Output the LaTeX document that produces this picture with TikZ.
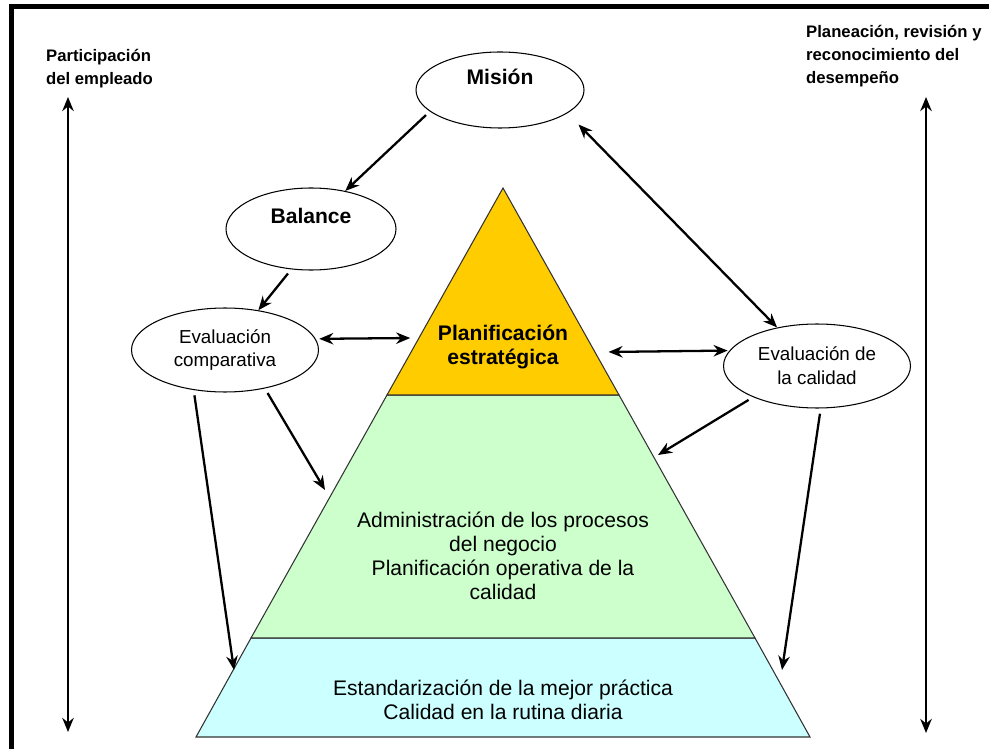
\documentclass[tikz,border=0pt]{standalone}
\usepackage{fontspec}
\setmainfont{Liberation Sans}
\usepackage{tikz}
\usetikzlibrary{arrows.meta,shapes.geometric,calc}
\definecolor{pyrorange}{HTML}{FFCC00}
\definecolor{pyrgreen}{HTML}{CCFFCC}
\definecolor{pyrblue}{HTML}{CCFFFF}
\tikzstyle{oval}=[ellipse,draw=black,fill=white,line width=0.6pt,inner sep=0pt,align=center]
\tikzstyle{edge}=[draw,line width=1.3pt,-{Stealth[length=8pt,width=6.5pt]}]
\tikzstyle{dedge}=[draw,line width=1.3pt,{Stealth[length=8pt,width=6.5pt]}-{Stealth[length=8pt,width=6.5pt]}]
\tikzstyle{layer}=[draw=black!80,line width=0.6pt]
\tikzstyle{side}=[font=\fontsize{9.5}{13}\selectfont\bfseries,align=left,anchor=west]
\tikzset{txt/.style={align=center,font=\fontsize{12}{13.6}\selectfont}}

\begin{document}
\begin{tikzpicture}[x=0.02cm,y=-0.02cm]
  \useasboundingbox (0,0) rectangle (989,749);

  % frame
  \draw[line width=2.3pt] (11.5,749) -- (11.5,6.5) -- (989,6.5);

  % pyramid
  \coordinate (apex) at (503,188);
  \coordinate (oL) at (387,395);
  \coordinate (oR) at (619,395);
  \coordinate (gL) at (251,638);
  \coordinate (gR) at (755,638);
  \coordinate (bL) at (196,737);
  \coordinate (bR) at (810,737);

  \path[layer,fill=pyrblue] (gL) -- (gR) -- (bR) -- (bL) -- cycle;
  \path[layer,fill=pyrgreen] (oL) -- (oR) -- (gR) -- (gL) -- cycle;
  \path[layer,fill=pyrorange] (apex) -- (oR) -- (oL) -- cycle;

  \node[txt,font=\fontsize{12}{13.6}\selectfont\bfseries] (plan) at (503,347) {Planificación\\estratégica};
  \node[txt] (admin) at (503,556) {Administración de los procesos\\del negocio\\Planificación operativa de la\\calidad};
  \node[txt] (estand) at (503,700) {Estandarización de la mejor práctica\\Calidad en la rutina diaria};

  % ellipses
  \foreach \x/\y/\w/\h/\name/\label in {500/90/168/76/mision/Misión, 311/229/170/82/balance/Balance}
    \node[oval,minimum width=\w*0.02cm,minimum height=\h*0.02cm,text depth=15pt,
          font=\fontsize{12}{13.6}\selectfont\bfseries] (\name) at (\x,\y) {\label};

  \foreach \x/\y/\name/\label in {225/350/evalcomp/{Evaluación\\comparativa}, 817/366/evalcal/{Evaluación de\\la calidad}}
    \node[oval,minimum width=3.74cm,minimum height=1.68cm,
          font=\fontsize{10.7}{13.6}\selectfont] (\name) at (\x,\y) {\label};

  % side labels
  \node[side] (partic) at (40,69) {Participación\\del empleado};
  \node[side] (planea) at (800,56) {Planeación, revisión y\\reconocimiento del\\desempeño};

  % arrow ends
  \coordinate (oLa) at (412,338);
  \coordinate (oRa) at (605,352);
  \coordinate (gA) at (658,455);
  \coordinate (gB) at (325,490);
  \coordinate (bA) at (782,670);
  \coordinate (bB) at (234,670);
  \coordinate (pL1) at (68,97);
  \coordinate (pL2) at (68,732);
  \coordinate (pR1) at (926,97);
  \coordinate (pR2) at (926,733);

  \foreach \source/\dest in {mision.197/balance.48, balance.244/evalcomp.50, evalcal.206/gA, evalcal.275/bA, evalcomp.316/gB, evalcomp.232/bB}
    \path[edge,shorten <=3pt] (\source) -- (\dest);

  \foreach \source/\dest in {evalcomp.7/oLa, oRa/evalcal.170}
    \path[dedge,shorten <=2pt,shorten >=1pt] (\source) -- (\dest);

  \foreach \source/\dest in {mision.341/evalcal.136}
    \path[dedge,shorten <=9pt] (\source) -- (\dest);

  \foreach \source/\dest in {pL1/pL2, pR1/pR2}
    \path[dedge,line width=1.5pt] (\source) -- (\dest);

\end{tikzpicture}
\end{document}
